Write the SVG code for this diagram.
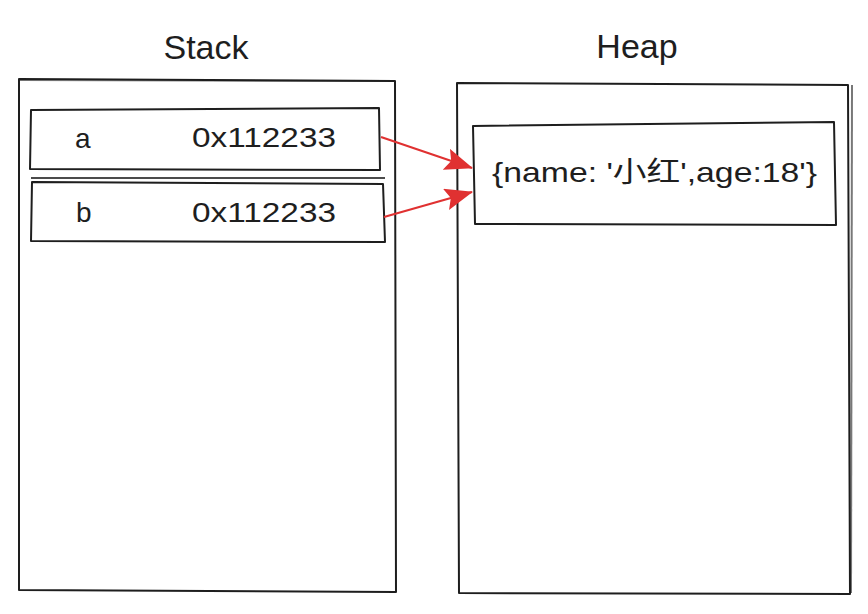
<svg xmlns="http://www.w3.org/2000/svg" width="868" height="614" viewBox="0 0 868 614">
<style>
.box{fill:none;stroke:#1e1e1e;stroke-width:2;stroke-linejoin:round}
.t{font-family:"Liberation Sans","Noto Sans CJK SC",sans-serif;fill:#1e1e1e}
.title{font-size:34px;text-anchor:middle}
.lbl{font-size:28px}
.conn{fill:none;stroke:#e03131;stroke-width:2.2}
</style>
<defs>
<marker id="ah" viewBox="0 0 28 22" refX="27" refY="11" markerWidth="28" markerHeight="22" markerUnits="userSpaceOnUse" orient="auto"><path d="M0,0 L28,11 L0,22 L5,11 Z" fill="#e03131"/></marker>
</defs>
<rect width="868" height="614" fill="#fff"/>
<g id="stack">
<text class="t title" x="206" y="59">Stack</text>
<path class="box" d="M19,79 L395,81 L396,592 L19,590 Z"/>
<path class="box" d="M20,80 L394,81" opacity="0.5"/>
</g>
<g id="heap">
<text class="t title" x="637" y="58">Heap</text>
<path class="box" d="M457,83 L848,85 L850,594 L459,593 Z"/>
<path class="box" d="M852,85 L851,593" opacity="0.6"/>
</g>
<g id="row-a">
<path class="box" d="M31,110 L379,108 L380,170 L30,169 Z"/>
<text class="t lbl" x="75" y="148">a</text>
<text class="t lbl" x="192" y="147" textLength="144" lengthAdjust="spacingAndGlyphs">0x112233</text>
</g>
<g id="row-b">
<path class="box" d="M32,182 L383,184 L385,242 L31,241 Z"/>
<path class="box" d="M31,178 L385,178" opacity="0.8"/>
<text class="t lbl" x="76" y="222">b</text>
<text class="t lbl" x="192" y="222" textLength="144" lengthAdjust="spacingAndGlyphs">0x112233</text>
</g>
<g id="object">
<path class="box" d="M473,126 L834,122 L836,225 L475,224 Z"/>
<text class="t lbl" x="492" y="182" textLength="325" lengthAdjust="spacingAndGlyphs">{name: '小红',age:18'}</text>
</g>
<g id="connectors">
<path class="conn" d="M381,137 L472,168" marker-end="url(#ah)"/>
<path class="conn" d="M384,217 L472,192" marker-end="url(#ah)"/>
</g>
</svg>
